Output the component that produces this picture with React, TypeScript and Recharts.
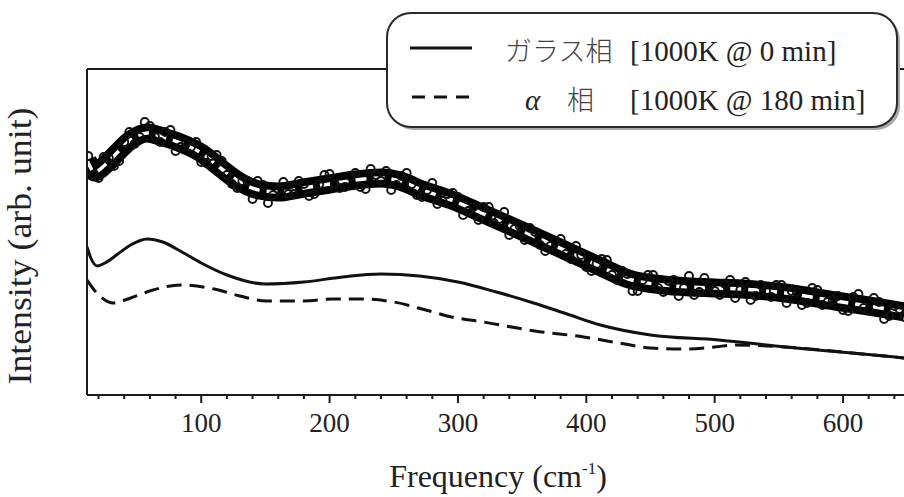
import { ComposedChart, Line, Scatter, XAxis, YAxis, ReferenceLine, Legend } from "recharts";

// x axis ticks (every 20 cm-1, labels on the hundreds)
const freqTicks = [20, 40, 60, 80, 100, 120, 140, 160, 180, 200, 220, 240, 260, 280, 300, 320, 340, 360, 380, 400, 420, 440, 460, 480, 500, 520, 540, 560, 580, 600, 620, 640];

// fitted curve through the measured band
const bandFreq = [11, 17, 25, 35, 45, 58, 70, 84, 100, 115, 130, 145, 160, 180, 200, 220, 240, 255, 272, 295, 320, 350, 386, 410, 433, 460, 482, 500, 521, 555, 594, 620, 648];
const bandFit = [235, 223, 230, 243, 255, 262, 258, 252, 242, 227, 213, 205, 203, 207, 211, 215, 217, 214, 205, 195, 181, 164, 143, 129, 116, 110, 108, 107, 106, 102, 94, 89, 83];

// measured points (open circles)
const glassMeasFreq = [12, 20, 28, 36, 44, 52, 60, 68, 76, 84, 92, 100, 108, 116, 124, 132, 140, 148, 156, 164, 172, 180, 188, 196, 204, 212, 220, 228, 236, 244, 252, 260, 268, 276, 284, 292, 300, 308, 316, 324, 332, 340, 348, 356, 364, 372, 380, 388, 396, 404, 412, 420, 428, 436, 444, 452, 460, 468, 476, 484, 492, 500, 508, 516, 524, 532, 540, 548, 556, 564, 572, 580, 588, 596, 604, 612, 620, 628, 636, 644];
const glassMeasVal = [239, 217, 237, 234, 263, 258, 269, 253, 265, 248, 248, 233, 239, 234, 211, 214, 196, 210, 200, 213, 201, 211, 201, 220, 211, 208, 222, 206, 220, 224, 210, 222, 200, 205, 191, 201, 198, 184, 175, 188, 176, 160, 169, 167, 150, 149, 156, 136, 140, 124, 136, 120, 124, 104, 115, 120, 103, 115, 107, 100, 117, 104, 111, 97, 113, 99, 104, 110, 92, 103, 92, 105, 93, 99, 84, 101, 85, 93, 79, 86];
const alphaMeasFreq = [16, 24, 32, 40, 48, 56, 64, 72, 80, 88, 96, 104, 112, 120, 128, 136, 144, 152, 160, 168, 176, 184, 192, 200, 208, 216, 224, 232, 240, 248, 256, 264, 272, 280, 288, 296, 304, 312, 320, 328, 336, 344, 352, 360, 368, 376, 384, 392, 400, 408, 416, 424, 432, 440, 448, 456, 464, 472, 480, 488, 496, 504, 512, 520, 528, 536, 544, 552, 560, 568, 576, 584, 592, 600, 608, 616, 624, 632, 640, 648];
const alphaMeasVal = [220, 238, 229, 253, 251, 273, 258, 263, 244, 252, 253, 232, 240, 220, 207, 214, 214, 192, 206, 201, 214, 199, 211, 221, 207, 219, 208, 226, 214, 205, 219, 211, 198, 212, 194, 202, 180, 188, 188, 172, 183, 166, 155, 163, 144, 154, 141, 149, 128, 131, 135, 115, 121, 104, 120, 107, 114, 99, 119, 103, 109, 100, 115, 105, 95, 110, 98, 110, 104, 90, 107, 90, 95, 85, 98, 87, 97, 76, 89, 78];

// calculated spectra (lower curves)
const glassFreq = [11, 14, 19, 25, 35, 45, 58, 70, 85, 100, 120, 150, 180, 210, 240, 270, 300, 330, 359, 385, 411, 450, 503, 555, 607, 648];
const glassCalc = [148, 137, 129, 132, 141, 150, 156, 153, 143, 132, 120, 111, 113, 118, 121, 119, 113, 103, 92, 81, 70, 60, 55, 48, 42, 37];
const alphaFreq = [11, 18, 25, 31, 45, 60, 84, 110, 130, 151, 180, 203, 224, 250, 275, 295, 320, 360, 398, 430, 450, 477, 500, 516, 555, 607, 648];
const alphaCalc = [115, 103, 95, 92, 97, 104, 110, 106, 99, 94, 94, 96, 96, 93, 85, 78, 73, 64, 58, 51, 47, 46, 48, 50, 48, 42, 37];

const rows = (fs: number[], vs: number[]) => fs.map((f, i) => ({ f, v: vs[i] }));

const serif = "Liberation Serif, Times New Roman, serif";
const cjk = "Noto Sans CJK JP, Noto Sans CJK SC, sans-serif";
const ink = "#1c1c1c";

function FreqTick(props: any) {
  const { x, y, payload } = props;
  const major = payload.value % 100 === 0;
  return (
    <g>
      <line x1={x} x2={x} y1={y} y2={y + (major ? 8 : 4)} stroke={ink} strokeWidth={2} />
      {major && (
        <text x={x} y={y + 37} textAnchor="middle" style={{ fontFamily: serif }} fontSize={27} fill="#222">
          {payload.value}
        </text>
      )}
    </g>
  );
}

function Circle(props: any) {
  return <circle cx={props.cx} cy={props.cy} r={4} fill="none" stroke="#111" strokeWidth={1.9} />;
}

function PhaseLegend() {
  return (
    <svg width={524} height={125} style={{ display: "block" }}>
      <rect x={10} y={8} width={510} height={114} rx={24} fill="#a8a8a8" />
      <rect x={7} y={5} width={510} height={114} rx={24} fill="#fff" stroke="#2a2a2a" strokeWidth={2} />
      <line x1={30} x2={92} y1={40} y2={40} stroke="#111" strokeWidth={3} />
      <line x1={32} x2={90} y1={89} y2={89} stroke="#111" strokeWidth={3} strokeDasharray="13 9" />
      <text x={125} y={53} style={{ fontFamily: cjk }} fontWeight={300} fontSize={27} fill="#444">ガラス相</text>
      <text x={250} y={53} style={{ fontFamily: serif }} fontSize={29} fill="#222">[1000K @ 0 min]</text>
      <text x={145} y={102} style={{ fontFamily: serif }} fontStyle="italic" fontSize={29} fill="#222">α</text>
      <text x={187} y={102} style={{ fontFamily: cjk }} fontWeight={300} fontSize={27} fill="#444">相</text>
      <text x={250} y={102} style={{ fontFamily: serif }} fontSize={29} fill="#222">[1000K @ 180 min]</text>
    </svg>
  );
}

export default function App() {
  return (
    <div style={{ position: "absolute", left: 0, top: 0, background: "#fff" }}>
      <ComposedChart width={904} height={497} margin={{ top: 69, right: 0, bottom: 42, left: 0 }}>
        <XAxis
          dataKey="f"
          type="number"
          domain={[11, 647.5]}
          allowDataOverflow
          ticks={freqTicks}
          interval={0}
          tick={<FreqTick />}
          tickLine={false}
          tickSize={0}
          tickMargin={0}
          height={60}
          axisLine={{ stroke: ink, strokeWidth: 2 }}
        />
        <YAxis
          dataKey="v"
          type="number"
          domain={[0, 326]}
          allowDataOverflow
          width={87}
          tick={false}
          tickLine={false}
          axisLine={{ stroke: ink, strokeWidth: 2 }}
        />
        <ReferenceLine y={326} stroke={ink} strokeWidth={2} />
        <Line data={rows(bandFreq, bandFit)} dataKey="v" type="monotone" stroke="#000" strokeWidth={19} dot={false} isAnimationActive={false} />
        <Scatter data={rows(glassMeasFreq, glassMeasVal)} dataKey="v" shape={<Circle />} isAnimationActive={false} />
        <Scatter data={rows(alphaMeasFreq, alphaMeasVal)} dataKey="v" shape={<Circle />} isAnimationActive={false} />
        <Line data={rows(bandFreq, bandFit)} dataKey="v" type="monotone" stroke="#fff" strokeWidth={3.5} strokeDasharray="11 7" dot={false} isAnimationActive={false} />
        <Line data={rows(glassFreq, glassCalc)} dataKey="v" type="monotone" stroke="#111" strokeWidth={3} dot={false} isAnimationActive={false} />
        <Line data={rows(alphaFreq, alphaCalc)} dataKey="v" type="monotone" stroke="#111" strokeWidth={3} strokeDasharray="15 8" dot={false} isAnimationActive={false} />
        <Legend
          layout="horizontal"
          verticalAlign="middle"
          align="center"
          content={<PhaseLegend />}
          wrapperStyle={{ left: 380, top: 8, width: 524, height: 125 }}
        />
      </ComposedChart>
      <svg width={904} height={497} style={{ position: "absolute", left: 0, top: 0, pointerEvents: "none" }}>
        <text
          x={31}
          y={246}
          transform="rotate(-90 31 246)"
          textAnchor="middle"
          style={{ fontFamily: serif }}
          fontSize={33}
          fill="#222"
          textLength={277}
          lengthAdjust="spacingAndGlyphs"
        >
          Intensity (arb. unit)
        </text>
        <text x={498} y={487} textAnchor="middle" style={{ fontFamily: serif }} fontSize={32} fill="#222">
          Frequency (cm
          <tspan fontSize={17} dy={-13}>-1</tspan>
          <tspan dy={13}>)</tspan>
        </text>
      </svg>
    </div>
  );
}
